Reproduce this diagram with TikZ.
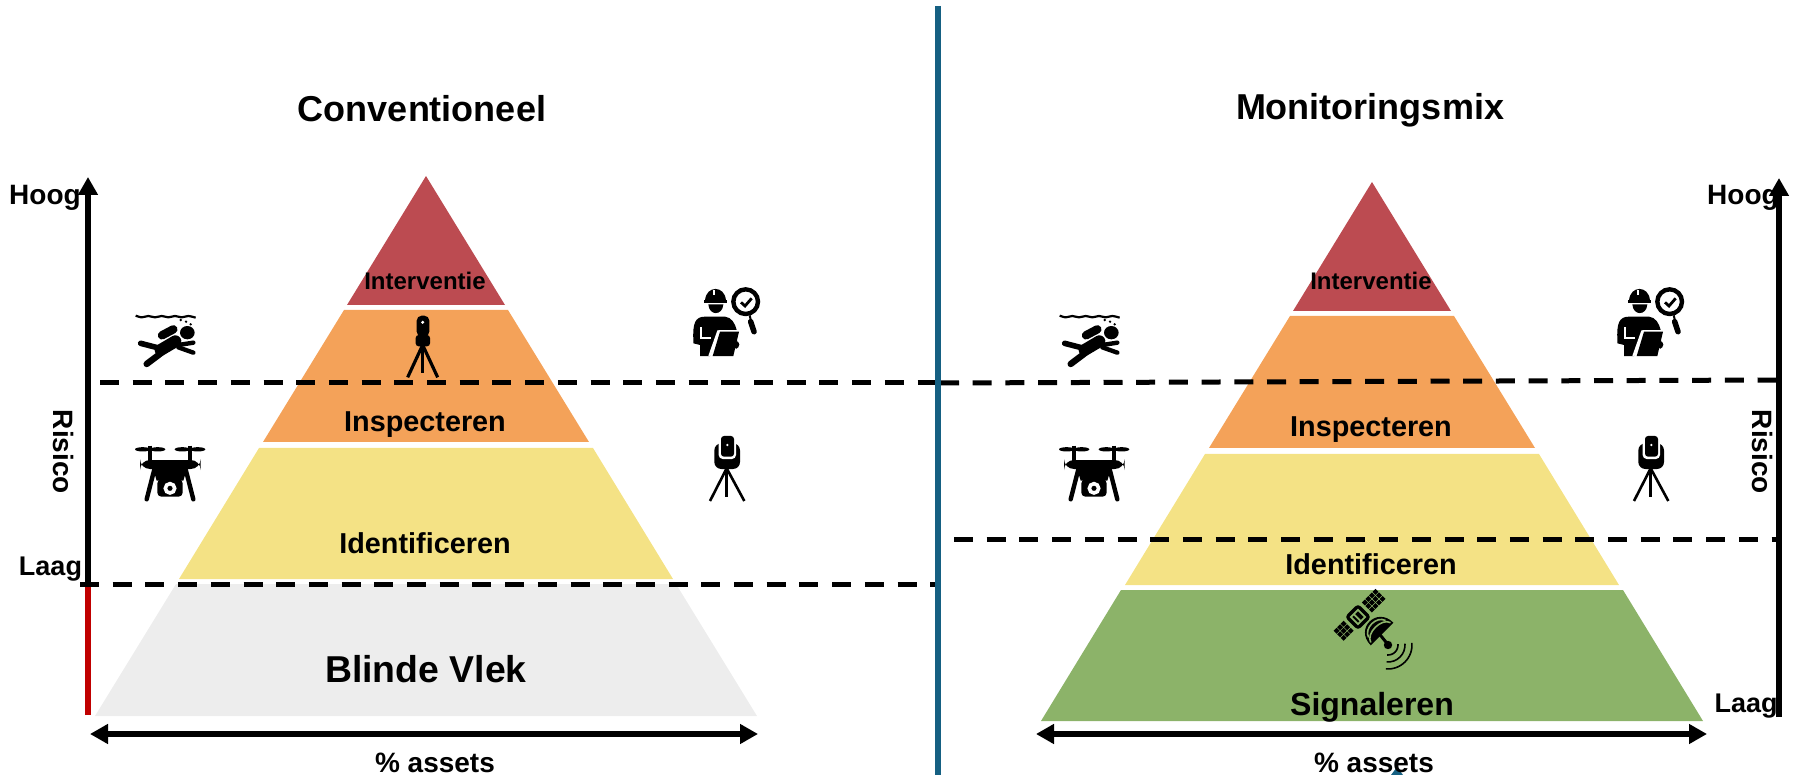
\documentclass[tikz,border=0pt]{standalone}
\usepackage{fontspec}
\setmainfont{Liberation Sans}
\usetikzlibrary{arrows.meta}
\definecolor{cred}{HTML}{BC4B51}
\definecolor{corange}{HTML}{F4A259}
\definecolor{cyellow}{HTML}{F4E285}
\definecolor{cgrey}{HTML}{EDEDED}
\definecolor{cgreen}{HTML}{8CB369}
\definecolor{cteal}{HTML}{156082}
\definecolor{caxisred}{HTML}{C00000}
\tikzset{
  zm/.style={x=0.16667pt,y=-0.16667pt},
  lbl/.style={font=\bfseries\fontsize{14}{16}\selectfont,text=black,inner sep=0pt},
  lbllow/.style={font=\bfseries\fontsize{13.5}{16}\selectfont,text=black,inner sep=0pt},
  lblmid/.style={font=\bfseries\fontsize{14.4}{16}\selectfont,text=black,inner sep=0pt},
  lblsmall/.style={font=\bfseries\fontsize{12}{14}\selectfont,text=black,inner sep=0pt},
  lblbig/.style={font=\bfseries\fontsize{18.7}{22}\selectfont,text=black,inner sep=0pt},
  lblsig/.style={font=\bfseries\fontsize{16}{18}\selectfont,text=black,inner sep=0pt},
  lbltitle/.style={font=\bfseries\fontsize{18}{20}\selectfont,text=black,inner sep=0pt},
  axisline/.style={line width=3pt,draw=black},
  uparrow/.style={axisline,-{Triangle[length=9pt,width=9.5pt]}},
  botharrow/.style={axisline,{Triangle[length=9pt,width=9.5pt]}-{Triangle[length=9pt,width=9.5pt]}},
  dashline/.style={line width=2.5pt,draw=black,dash pattern=on 9.5pt off 6.85pt},
  divider/.style={line width=2.8pt,draw=cteal},
  diver/.pic={
    \begin{scope}[shift={(100,230)},zm]
      \draw[line width=1.1pt] plot[smooth] coordinates {(107,257)(125,262)(145,258)(165,262)(185,258)(205,262)(225,258)(245,262)(265,258)(287,263)};
      \fill (242,270) circle (4) (258,275) circle (4) (272,283) circle (4);
      \fill (262,308) ellipse (22 and 20);
      \draw[line width=4.2pt,line cap=round] (186,316) -- (220,298);
      \draw[line width=6pt,line cap=round] (226,334) -- (182,360);
      \draw[line width=2.8pt,line cap=round] (180,355) -- (122,340);
      \draw[line width=3.2pt,line cap=round] (185,368) -- (140,402);
      \draw[line width=2.2pt,line cap=round] (235,345) -- (280,338);
      \draw[line width=2.2pt,line cap=round] (235,352) -- (280,368);
    \end{scope}
  },
  drone/.pic={
    \begin{scope}[shift={(125,430)},zm]
      \fill (53,58) ellipse (23 and 6.5) (98,58) ellipse (23 and 6.5);
      \fill (172,58) ellipse (23 and 6.5) (218,58) ellipse (23 and 6.5);
      \draw[line width=2.4pt] (75,47) -- (75,95) (195,47) -- (195,95);
      \fill[rounded corners=5pt] (45,90) rectangle (227,117);
      \fill (78,95) -- (192,95) -- (175,152) -- (95,152) -- cycle;
      \draw[line width=2.2pt,line cap=round] (88,118) -- (65,208) (182,118) -- (205,208);
      \fill[rounded corners=2pt] (97,148) rectangle (173,200);
      \draw[white,line width=1.8pt] (135,175) circle (14);
    \end{scope}
  },
  inspector/.pic={
    \begin{scope}[shift={(680,280)},zm]
      \fill (75,62) .. controls (78,15) and (135,15) .. (138,62) -- cycle;
      \fill[white] (100,30) rectangle (105,46);
      \draw[line width=1.5pt] (72,65) -- (141,65);
      \fill (85,73) -- (130,73) .. controls (128,108) and (87,108) .. (85,73) -- cycle;
      \fill (40,180) .. controls (38,130) and (45,110) .. (75,110) -- (135,110) .. controls (155,112) and (165,130) .. (170,150) -- (115,150) -- (90,228) -- (60,228) -- (60,195) -- (40,190) -- cycle;
      \draw[white,line width=1pt] (62,142) -- (62,175) -- (92,175);
      \draw[white,line width=1pt] (115,152) -- (88,228);
      \fill (120,155) -- (177,155) -- (160,228) -- (98,228) -- cycle;
      \fill[rounded corners=2pt] (160,182) rectangle (178,206);
      \draw[line width=2.2pt] (197,65) circle (37);
      \draw[line width=1.4pt] (183,67) -- (195,78) -- (215,55);
      \draw[line width=2.8pt,line cap=round] (212,125) -- (222,155);
      \draw[line width=1pt] (209,106) -- (212,118);
    \end{scope}
  },
  scanner/.pic={
    \begin{scope}[shift={(695,425)},zm]
      \draw[line width=1.3pt] (95,130) -- (45,228) (95,130) -- (148,228);
      \draw[line width=1.6pt] (95,130) -- (95,215);
      \fill[rounded corners=3.5pt] (58,55) rectangle (135,132);
      \fill[white,rounded corners=2pt] (71,20) rectangle (123,102);
      \fill[rounded corners=1.5pt] (78,33) rectangle (117,95);
      \fill[white] (97,60) circle (4);
    \end{scope}
  },
  totalstation/.pic={
    \begin{scope}[shift={(395,305)},zm]
      \draw[line width=1.6pt] (83,120) -- (38,217) (83,120) -- (128,217);
      \draw[line width=1.6pt] (83,120) -- (83,205);
      \fill[rounded corners=2.5pt] (65,32) rectangle (103,95);
      \fill[rounded corners=1.5pt] (62,90) rectangle (105,124);
      \fill[white] (83,52) circle (5);
    \end{scope}
  },
  satellite/.pic={
    \begin{scope}[shift={(1358,617)},rotate=45]
      \foreach \a in {13,18,23,28} \foreach \b in {-7.5,-2.5,2.5}
        \fill (\a,\b) rectangle +(4.2,4.2);
      \foreach \a in {-17,-22,-27} \foreach \b in {-7.5,-2.5,2.5}
        \fill (\a,\b) rectangle +(4.2,4.2);
      \fill[rounded corners=2pt] (-9.5,-9.5) rectangle (9.5,9.5);
      \draw[cgreen,line width=.9pt] (-5,-5) rectangle (5,5);
      \draw[cgreen,line width=.9pt] (-1,-5) -- (-1,5);
      \fill (-11,29) .. controls (-11,5.5) and (21,5.5) .. (21,29) -- cycle;
      \draw[cgreen,line width=.8pt] (-7,22) .. controls (-4,12) and (14,12) .. (17,22);
      \draw[cgreen,line width=.8pt] (-9,27) .. controls (-6,17) and (16,17) .. (19,27);
      \draw[black,line width=1.5pt] (3,28) -- (2,38);
    \end{scope}
    \fill (1388,645) circle (4.2);
    \foreach \r in {10,17,24}
      \draw[line width=.8pt] plot[domain=-5:95,smooth,samples=9] ({1388+\r*cos(\x)},{645+\r*sin(\x)});
  }
}
\begin{document}
\begin{tikzpicture}[x=0.5pt,y=-0.5pt]
\useasboundingbox (0,0) rectangle (1796,775);
% left pyramid
\fill[cred] (426,176) -- (505,305) -- (347,305) -- cycle;
\fill[corange] (344,310) -- (508,310) -- (589,442) -- (263,442) -- cycle;
\fill[cyellow] (259,448) -- (593,448) -- (673,579) -- (179,579) -- cycle;
\fill[cgrey] (176,584) -- (676,584) -- (757,716) -- (95,716) -- cycle;
% right pyramid
\fill[cred] (1372,182) -- (1451,311) -- (1293,311) -- cycle;
\fill[corange] (1290,316) -- (1454,316) -- (1535,448) -- (1209,448) -- cycle;
\fill[cyellow] (1205,454) -- (1539,454) -- (1619,585) -- (1125,585) -- cycle;
\fill[cgreen] (1121,590) -- (1623,590) -- (1703,721) -- (1041,721) -- cycle;
% icons
\pic at (0,0) {diver};
\pic at (924,0) {diver};
\pic at (0,0) {drone};
\pic at (924,0) {drone};
\pic at (0,0) {inspector};
\pic at (924,0) {inspector};
\pic at (0,0) {scanner};
\pic at (924,0) {scanner};
\pic at (0,0) {totalstation};
\pic at (0,0) {satellite};
% connector ends
\coordinate (divT) at (938,6);
\coordinate (divB) at (938,775);
\coordinate (laT) at (88,177);
\coordinate (laM) at (88,587);
\coordinate (laB) at (88,715);
\coordinate (raT) at (1779,178);
\coordinate (raB) at (1779,717);
\coordinate (lbL) at (90,734);
\coordinate (lbR) at (758,734);
\coordinate (rbL) at (1036,734);
\coordinate (rbR) at (1707,734);
\coordinate (d1a) at (100,383);
\coordinate (d1b) at (939,383);
\coordinate (d2a) at (80,584);
\coordinate (d2b) at (939,584);
\coordinate (d3a) at (940,383);
\coordinate (d3b) at (1779,380);
\coordinate (d4a) at (954,540);
\coordinate (d4b) at (1779,540);
% connectors
\draw[dashline] (d1a) -- (d1b);
\draw[dashline] (d2a) -- (d2b);
\draw[dashline] (d3a) -- (d3b);
\draw[dashline] (d4a) -- (d4b);
\draw[divider] (divT) -- (divB);
\draw[axisline,draw=caxisred] (laB) -- (laM);
\draw[uparrow] (laM) -- (laT);
\draw[uparrow] (raB) -- (raT);
\draw[botharrow] (lbL) -- (lbR);
\draw[botharrow] (rbL) -- (rbR);
\fill[cteal] (1391,775) -- (1397,767) -- (1403,775) -- cycle;
% labels
\node[lbltitle] (t1) at (422,109) {Conventioneel};
\node[lbltitle] (t2) at (1370,110) {Monitoringsmix};
\node[lblsmall] (i1) at (425,281) {Interventie};
\node[lblsmall] (i2) at (1371,281) {Interventie};
\node[lblmid] (n1) at (425,425) {Inspecteren};
\node[lblmid] (n2) at (1371,430) {Inspecteren};
\node[lblmid] (f1) at (425,543) {Identificeren};
\node[lblmid] (f2) at (1371,564.5) {Identificeren};
\node[lblbig] (b1) at (426,669) {Blinde Vlek};
\node[lblsig] (s2) at (1372,707) {Signaleren};
\node[lbl] (a1) at (435,763) {\% assets};
\node[lbl] (a2) at (1374,763) {\% assets};
\node[lbl] (h1) at (45,198) {Hoog};
\node[lbl] (h2) at (1743,198) {Hoog};
\node[lbllow] (l1) at (50.5,569) {Laag};
\node[lbllow] (l2) at (1746,706) {Laag};
\node[lbl,rotate=270] (r1) at (64,452) {Risico};
\node[lbl,rotate=270] (r2) at (1762,452) {Risico};
\end{tikzpicture}
\end{document}
